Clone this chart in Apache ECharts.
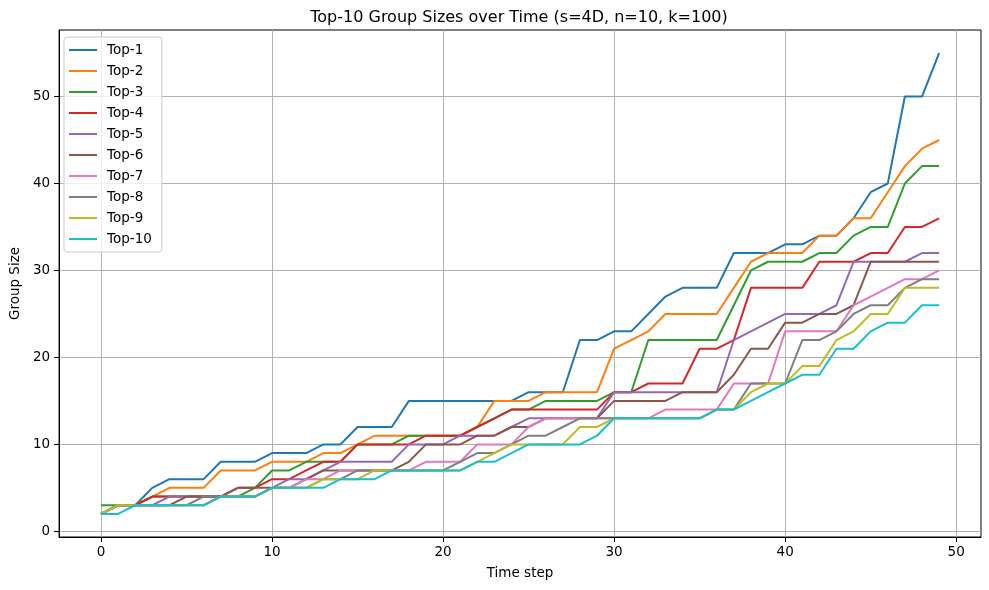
<!DOCTYPE html>
<html><head><meta charset="utf-8">
<script src="https://cdn.jsdelivr.net/npm/echarts@6/dist/echarts.min.js"></script>
<style>html,body{margin:0;padding:0;background:#fff}#c{width:989px;height:590px}</style>
</head><body><div id="c"></div>
<script>
const timeSteps = [0,1,2,3,4,5,6,7,8,9,10,11,12,13,14,15,16,17,18,19,20,21,22,23,24,25,26,27,28,29,30,31,32,33,34,35,36,37,38,39,40,41,42,43,44,45,46,47,48,49];
const seriesNames = ['Top-1','Top-2','Top-3','Top-4','Top-5','Top-6','Top-7','Top-8','Top-9','Top-10'];
const top1 = [2,3,3,5,6,6,6,8,8,8, 9,9,9,10,10,12,12,12,15,15, 15,15,15,15,15,16,16,16,22,22, 23,23,25,27,28,28,28,32,32,32, 33,33,34,34,36,39,40,50,50,55];
const top2 = [2,3,3,4,5,5,5,7,7,7, 8,8,8,9,9,10,11,11,11,11, 11,11,12,15,15,15,16,16,16,16, 21,22,23,25,25,25,25,28,31,32, 32,32,34,34,36,36,39,42,44,45];
const top3 = [3,3,3,4,4,4,4,4,4,5, 7,7,8,8,8,10,10,10,11,11, 11,11,12,13,14,14,15,15,15,15, 16,16,22,22,22,22,22,26,30,31, 31,31,32,32,34,35,35,40,42,42];
const top4 = [2,3,3,4,4,4,4,4,5,5, 6,6,7,8,8,10,10,10,10,11, 11,11,12,13,14,14,14,14,14,14, 16,16,17,17,17,21,21,22,28,28, 28,28,31,31,31,32,32,35,35,36];
const top5 = [2,3,3,3,4,4,4,4,4,4, 5,6,6,7,8,8,8,8,10,10, 10,11,11,11,12,13,13,13,13,13, 16,16,16,16,16,16,16,22,23,24, 25,25,25,26,31,31,31,31,32,32];
const top6 = [2,3,3,3,3,4,4,4,5,5, 5,5,6,7,7,7,7,7,8,10, 10,10,11,11,12,12,13,13,13,13, 15,15,15,15,16,16,16,18,21,21, 24,24,25,25,26,31,31,31,31,31];
const top7 = [2,3,3,3,3,3,3,4,4,4, 5,5,6,6,7,7,7,7,7,8, 8,8,10,10,10,12,13,13,13,13, 13,13,13,14,14,14,14,17,17,17, 23,23,23,23,26,27,28,29,29,30];
const top8 = [2,3,3,3,3,3,4,4,4,4, 5,5,5,6,6,7,7,7,7,7, 7,8,9,9,10,11,11,12,13,13, 13,13,13,13,13,13,14,14,17,17, 17,22,22,23,25,26,26,28,29,29];
const top9 = [2,3,3,3,3,3,3,4,4,4, 5,5,5,6,6,6,7,7,7,7, 7,7,8,9,10,10,10,10,12,12, 13,13,13,13,13,13,14,14,16,17, 17,19,19,22,23,25,25,28,28,28];
const top10 = [2,2,3,3,3,3,3,4,4,4, 5,5,5,5,6,6,6,7,7,7, 7,7,8,8,9,10,10,10,10,11, 13,13,13,13,13,13,14,14,15,16, 17,18,18,21,21,23,24,24,26,26];
const xTicks = [0,10,20,30,40,50];
const yTicks = [0,10,20,30,40,50];
const colors = ['#1f77b4','#ff7f0e','#2ca02c','#d62728','#9467bd','#8c564b','#e377c2','#7f7f7f','#bcbd22','#17becf'];
const allValues = [top1,top2,top3,top4,top5,top6,top7,top8,top9,top10];

const FONT = 'DejaVu Sans';
const chart = echarts.init(document.getElementById('c'), null, {renderer:'canvas'});
chart.setOption({
  animation: false,
  color: colors,
  title: {
    text: 'Top-10 Group Sizes over Time (s=4D, n=10, k=100)',
    left: 519, top: 10, textAlign: 'center', padding: 0,
    textStyle: {fontFamily: FONT, fontSize: 16, fontWeight: 'normal', color: '#000'}
  },
  grid: {left: 57, right: 8, top: 30, bottom: 53, show: true, borderColor: '#000', borderWidth: 1, backgroundColor: 'transparent'},
  legend: {
    orient: 'vertical', left: 64, top: 37,
    padding: [6, 10, 6, 5],
    itemWidth: 28, itemHeight: 2, itemGap: 7,
    icon: 'rect',
    backgroundColor: 'rgba(255,255,255,0.8)',
    borderColor: '#cccccc', borderWidth: 1, borderRadius: 3,
    textStyle: {fontFamily: FONT, fontSize: 13.5, color: '#000', lineHeight: 14, padding: [0,0,0,5]},
    data: seriesNames
  },
  xAxis: {
    type: 'value', min: -2.45, max: 51.45,
    name: 'Time step', nameLocation: 'middle', nameGap: 29,
    nameTextStyle: {fontFamily: FONT, fontSize: 13.5, color: '#000'},
    axisLine: {onZero: false, lineStyle: {color: '#000', width: 1}},
    axisTick: {show: true, length: 5, customValues: xTicks, lineStyle: {color: '#000'}},
    axisLabel: {customValues: xTicks, margin: 8, fontFamily: FONT, fontSize: 13.5, color: '#000'},
    splitLine: {show: true, lineStyle: {color: '#b0b0b0', width: 1}}
  },
  yAxis: {
    type: 'value', min: -0.65, max: 57.65,
    name: 'Group Size', nameLocation: 'middle', nameGap: 35, nameRotate: 90,
    nameTextStyle: {fontFamily: FONT, fontSize: 13.5, color: '#000'},
    axisLine: {show: true, onZero: false, lineStyle: {color: '#000', width: 1}},
    axisTick: {show: true, length: 5, customValues: yTicks, lineStyle: {color: '#000'}},
    axisLabel: {customValues: yTicks, margin: 9, fontFamily: FONT, fontSize: 13.5, color: '#000'},
    splitLine: {show: true, lineStyle: {color: '#b0b0b0', width: 1}}
  },
  series: seriesNames.map((name, k) => ({
    name: name, type: 'line', showSymbol: false, symbol: 'none',
    lineStyle: {width: 2, color: colors[k]},
    itemStyle: {color: colors[k]},
    data: timeSteps.map((t, i) => [t, allValues[k][i]])
  }))
});
</script></body></html>
